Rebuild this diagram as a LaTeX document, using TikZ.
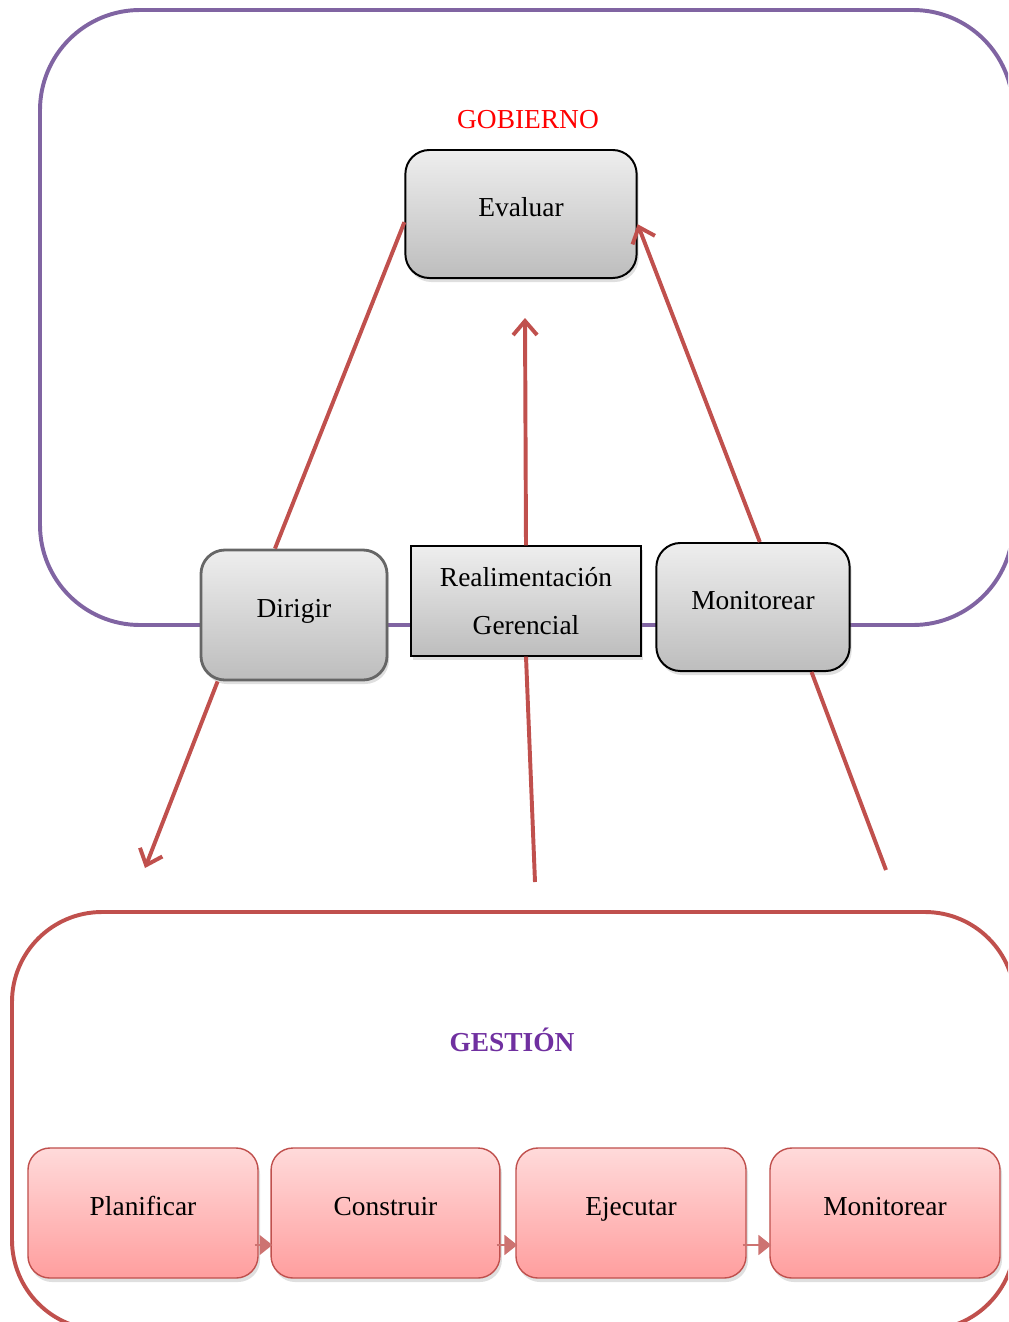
\documentclass[tikz,border=0pt]{standalone}
\usepackage{fontspec}
\setmainfont{Liberation Serif}
\usetikzlibrary{arrows.meta,shadows,calc}
\definecolor{marcogob}{HTML}{8064A2}
\definecolor{rojoflecha}{HTML}{C0504D}
\definecolor{grisclaro}{HTML}{EEEEEE}
\definecolor{grisoscuro}{HTML}{BDBDBD}
\definecolor{rosaclaro}{HTML}{FFDADA}
\definecolor{rosaoscuro}{HTML}{FF9E9E}
\definecolor{morado}{HTML}{7030A0}
\tikzset{
	cajagris/.style={draw=black,line width=1.4pt,rounded corners=0.6cm,top color=grisclaro,bottom color=grisoscuro,
		minimum height=3.2cm,font=\fontsize{19.5}{23}\selectfont,text height=13pt,text depth=10pt,
		drop shadow={opacity=0.25,shadow xshift=0.05cm,shadow yshift=-0.1cm}},
	cajarosa/.style={draw=rojoflecha,line width=1pt,rounded corners=0.55cm,top color=rosaclaro,bottom color=rosaoscuro,
		minimum width=5.75cm,minimum height=3.25cm,font=\fontsize{19.5}{23}\selectfont,text height=13pt,text depth=10pt,
		drop shadow={opacity=0.25,shadow xshift=0.05cm,shadow yshift=-0.1cm}},
	flecha/.style={draw=rojoflecha,line width=2.8pt,-{Straight Barb[length=0.35cm,width=0.6cm]}},
	linea/.style={draw=rojoflecha,line width=2.8pt},
	pasoflecha/.style={draw=rojoflecha!80,line width=1.2pt,-{Triangle[length=0.32cm,width=0.5cm]}}
}
\begin{document}
\begin{tikzpicture}[x=0.025cm,y=-0.025cm]
	\useasboundingbox (0,0) rectangle (1008,1322);
	\clip (0,0) rectangle (1008,1322);
	% marcos
	\draw[marcogob,line width=2.8pt,rounded corners=2.5cm] (40,625) -- (40,10) -- (1013,10) -- (1013,625) -- cycle;
	\draw[rojoflecha,line width=2.8pt,rounded corners=2.25cm] (12,1330) -- (12,912) -- (1015,912) -- (1015,1330) -- cycle;
	\node[text=red,font=\fontsize{19.5}{23}\selectfont] (gobierno) at (528,120) {GOBIERNO};
	\node[text=morado,font=\bfseries\fontsize{19.5}{23}\selectfont] (gestion) at (512,1040) {GESTIÓN};
	% gobierno
	\node[cajagris,minimum width=5.78cm] (evaluar) at (521,214) {Evaluar};
	\node[cajagris,minimum width=4.65cm,minimum height=3.25cm,draw=black!60,line width=2pt] (dirigir) at (294,615) {Dirigir};
	\node[cajagris,minimum width=5.75cm,minimum height=2.73cm,rounded corners=0pt,align=center,text height=,text depth=,
		font=\fontsize{19.5}{34}\selectfont] (realim) at (526,601) {Realimentación\\Gerencial};
	\node[cajagris,minimum width=4.83cm] (monitor) at (753,607) {Monitorear};
	% gestion
	\node[cajarosa] (planificar) at (143,1213) {Planificar};
	\node[cajarosa,minimum width=5.72cm] (construir) at (385.5,1213) {Construir};
	\node[cajarosa] (ejecutar) at (631,1213) {Ejecutar};
	\node[cajarosa] (monitorg) at (885,1213) {Monitorear};
	\draw[pasoflecha] ($(planificar.east)+(-4,32)$) -- ($(construir.west)+(2,32)$);
	\draw[pasoflecha] ($(construir.east)+(-4,32)$) -- ($(ejecutar.west)+(2,32)$);
	\draw[pasoflecha] ($(ejecutar.east)+(-4,32)$) -- ($(monitorg.west)+(2,32)$);
	% conectores
	\coordinate (puntaR) at (525,318);
	\coordinate (puntaD) at (145,868);
	\coordinate (finR) at (535,882);
	\coordinate (finM) at (886,870);
	\draw[linea] (dirigir.106) -- (evaluar.184);
	\draw[flecha] (realim.north) -- (puntaR);
	\draw[flecha] (monitor.84) -- (evaluar.355);
	\draw[flecha] (dirigir.221) -- (puntaD);
	\draw[linea] (realim.south) -- (finR);
	\draw[linea] (monitor.312) -- (finM);
\end{tikzpicture}
\end{document}
